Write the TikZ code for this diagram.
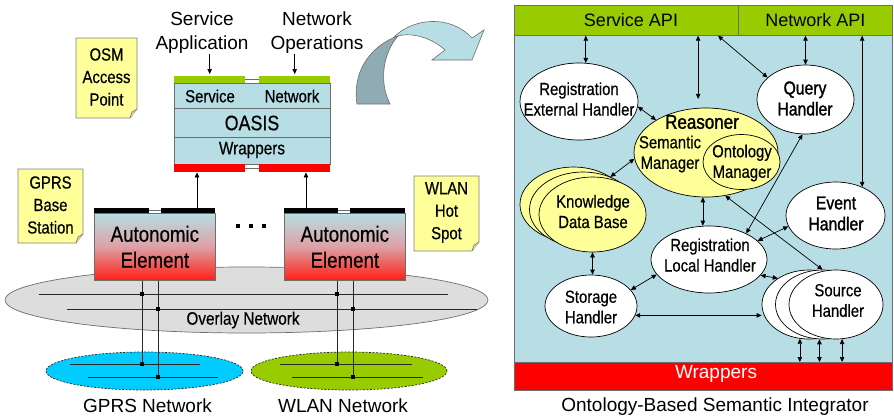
\documentclass[tikz,border=0pt]{standalone}
\usepackage{fontspec}
\setmainfont{Liberation Sans}
\newfontfamily\narrowsans[FakeStretch=0.85,FakeBold=0.5]{Liberation Sans}
\newfontfamily\narrowheavy[FakeStretch=0.85,FakeBold=1.4]{Liberation Sans}
\usetikzlibrary{shapes.geometric,arrows.meta,calc}

\definecolor{panelblue}{RGB}{183,222,228}
\definecolor{apigreen}{RGB}{153,204,0}
\definecolor{paleyellow}{RGB}{255,255,153}
\definecolor{notebrd}{RGB}{128,128,128}
\definecolor{boxbrd}{RGB}{110,110,110}
\definecolor{overlaygray}{RGB}{221,221,221}
\definecolor{gprscyan}{RGB}{0,204,255}
\definecolor{wlangreen}{RGB}{153,204,0}
\definecolor{arrowdark}{RGB}{143,172,180}
\definecolor{arrowlight}{RGB}{183,222,228}
\definecolor{aered}{RGB}{255,30,20}
\definecolor{aemid}{RGB}{222,160,165}
\definecolor{netline}{RGB}{40,40,40}

% sticky note: x1 y1 x2 y2 name text
\newcommand\stickynote[6]{%
  \filldraw[fill=paleyellow,draw=notebrd,line width=0.7pt]
    (#1,#2) -- (#3,#2) -- (#3,#4-9) -- (#3-7,#4) -- (#1,#4) -- cycle;
  \draw[notebrd,line width=0.7pt,fill=paleyellow!75!notebrd]
    (#3,#4-9) -- (#3-5,#4-6) -- (#3-7,#4);
  \node[notetext] (#5) at ({(#1+#3)/2},{(#2+#4)/2-1}) {#6};
}

\tikzset{
  notetext/.style={font=\narrowsans\fontsize{17.5}{22.5}\selectfont, align=center, inner sep=0pt},
  headtext/.style={font=\fontsize{19}{24}\selectfont, align=center, inner sep=0pt},
  captext/.style={font=\fontsize{19}{23}\selectfont, inner sep=0pt},
  ovtext/.style={font=\narrowsans\fontsize{17.5}{20.5}\selectfont, align=center, inner sep=0pt},
  bigovtext/.style={font=\narrowheavy\fontsize{18.5}{21}\selectfont, align=center, inner sep=0pt},
  oval/.style={ellipse, draw=black, line width=0.7pt, fill=white, inner sep=0pt},
  yoval/.style={oval, fill=paleyellow},
  bar/.style={rectangle, anchor=north west, inner sep=0pt, draw=none},
  plainbox/.style={rectangle, anchor=north west, inner sep=0pt, draw=boxbrd, line width=0.7pt},
  aebox/.style={plainbox, top color=panelblue, bottom color=aered, middle color=aemid,
    font=\narrowsans\fontsize{22}{26}\selectfont, align=center},
  link/.style={line width=0.7pt},
  net/.style={netline, line width=0.8pt},
}

\begin{document}
\begin{tikzpicture}[x=1pt,y=-1pt,>={Triangle[length=5pt,width=4.5pt]}]
\useasboundingbox (0,0) rectangle (894,416);
\fill[white] (0,0) rectangle (894,416);

% ---------------- left: network side ----------------
% overlay network
\node[ellipse, draw=boxbrd, line width=0.7pt, fill=overlaygray, inner sep=0pt,
      minimum width=483pt, minimum height=66pt] (overlay) at (246.5,300) {};
\node[font=\narrowsans\fontsize{18}{20}\selectfont, inner sep=0pt] (ovlabel) at (243,320) {Overlay Network};
\draw[net] (39,294) -- (448,294);
\draw[net] (67,309) -- (477,309);

% access networks
\node[ellipse, draw=netline, dash pattern=on 2pt off 1.5pt, line width=0.7pt, fill=gprscyan,
      inner sep=0pt, minimum width=197pt, minimum height=38pt] (gprs) at (144.5,371) {};
\node[ellipse, draw=netline, dash pattern=on 2pt off 1.5pt, line width=0.7pt, fill=wlangreen,
      inner sep=0pt, minimum width=196pt, minimum height=38pt] (wlan) at (349,371) {};
\draw[net] (70,364) -- (200,364);
\draw[net] (88,377) -- (218,377);
\draw[net] (280,364) -- (412,364);
\draw[net] (292,377) -- (423,377);
\node[captext] (gprslabel) at (147.5,406) {GPRS Network};
\node[captext] (wlanlabel) at (343,406) {WLAN Network};

% autonomic elements
\node[aebox, minimum width=121pt, minimum height=67pt] (ae1) at (94,213) {Autonomic\\Element};
\node[aebox, minimum width=121pt, minimum height=67pt] (ae2) at (284,213) {Autonomic\\Element};
\node[bar, fill=black, minimum width=55pt, minimum height=5pt] (ae1l) at (94,208) {};
\node[bar, fill=black, minimum width=54pt, minimum height=5pt] (ae1r) at (161,208) {};
\node[bar, fill=black, minimum width=54pt, minimum height=5pt] (ae2l) at (284,208) {};
\node[bar, fill=black, minimum width=55pt, minimum height=5pt] (ae2r) at (350,208) {};
\draw[boxbrd, line width=0.6pt] (ae1l.east) -- (ae1r.west);
\draw[boxbrd, line width=0.6pt] (ae2l.east) -- (ae2r.west);

% attachment lines down to the networks
\draw[net] (ae1.south -| 142,0) -- (142,364);
\draw[net] (ae1.south -| 158,0) -- (158,377);
\draw[net] (ae2.south -| 337,0) -- (337,364);
\draw[net] (ae2.south -| 353,0) -- (353,377);
\foreach \px/\py in {142/294,158/309,142/364,158/377,337/294,353/309,337/364,353/377}
  \fill[black] (\px-1.7,\py-1.7) rectangle (\px+1.7,\py+1.7);

% ellipsis between elements
\foreach \px in {238,251,264}
  \fill[black] (\px-1.7,226-1.7) rectangle (\px+1.7,226+1.7);

% OASIS stack
\node[plainbox, fill=panelblue, minimum width=156pt, minimum height=81pt] (oasis) at (174,83) {};
\draw[boxbrd, line width=0.7pt] (oasis.west |- 0,108) -- (oasis.east |- 0,108);
\draw[boxbrd, line width=0.7pt] (oasis.west |- 0,137) -- (oasis.east |- 0,137);
\node[bar, fill=apigreen, minimum width=71pt, minimum height=7pt] (ogl) at (174,76) {};
\node[bar, fill=apigreen, minimum width=71pt, minimum height=7pt] (ogr) at (259,76) {};
\node[bar, fill=red, minimum width=71pt, minimum height=8pt] (orl) at (174,164) {};
\node[bar, fill=red, minimum width=71pt, minimum height=8pt] (orr) at (259,164) {};
\draw[boxbrd, line width=0.6pt] (ogl.east) -- (ogr.west);
\draw[boxbrd, line width=0.6pt] (orl.east) -- (orr.west);
\node[font=\narrowsans\fontsize{17.5}{20}\selectfont, inner sep=0pt] (osvc) at (210,96) {Service};
\node[font=\narrowsans\fontsize{17.5}{20}\selectfont, inner sep=0pt] (onet) at (292,96) {Network};
\node[font=\narrowsans\fontsize{21}{24}\selectfont, inner sep=0pt] (oname) at (252,123) {OASIS};
\node[font=\narrowsans\fontsize{18}{20}\selectfont, inner sep=0pt] (owrap) at (252,150) {Wrappers};

% inputs from above
\node[headtext] (svcapp) at (202,33) {Service\\Application};
\node[headtext] (netops) at (317,33) {Network\\Operations};
\draw[link,->, shorten >=2pt] (svcapp.south -| ogl.center) -- (ogl.north);
\draw[link,->, shorten >=2pt] (netops.south -| ogr.center) -- (ogr.north);

% elements report up to OASIS
\coordinate (ae1out) at (197,208);
\coordinate (ae2out) at (306,208);
\draw[link,->] (ae1out) -- (ae1out |- orl.south);
\draw[link,->] (ae2out) -- (ae2out |- orr.south);

% notes
\stickynote{76}{38}{137}{118}{osm}{OSM\\Access\\Point}
\stickynote{18}{169}{83}{243}{gprsbs}{GPRS\\Base\\Station}
\stickynote{414}{176}{479}{251}{wlanhs}{WLAN\\Hot\\Spot}

% zoom arrow towards the integrator
\filldraw[fill=arrowlight, draw=boxbrd, line width=0.6pt]
  (393,38) .. controls (412,18) and (450,14) .. (472,38)
  -- (484,30) -- (472,60) -- (432,60) -- (445,50)
  .. controls (432,38) and (412,32) .. (398,36) -- cycle;
\filldraw[fill=arrowdark, draw=boxbrd, line width=0.6pt]
  (357,104) .. controls (352,72) and (370,48) .. (393,38)
  -- (398,36) .. controls (384,52) and (378,80) .. (390,104) -- cycle;

% ---------------- right: semantic integrator ----------------
\node[plainbox, fill=panelblue, minimum width=378pt, minimum height=385pt] (panel) at (514,5) {};
\node[plainbox, fill=apigreen, minimum width=224pt, minimum height=30pt] (svcapi) at (514,5) {};
\node[plainbox, fill=apigreen, minimum width=154pt, minimum height=30pt,
      font=\fontsize{18}{20}\selectfont] (netapi) at (738,5) {Network API};
\node[font=\fontsize{18}{20}\selectfont, inner sep=0pt] (svcapitext) at (631,20) {Service API};
\node[plainbox, fill=red, minimum width=378pt, minimum height=28pt] (wrapbar) at (514,362) {};
\node[font=\fontsize{19}{21}\selectfont, text=white, inner sep=0pt] (wraptext) at (716,374) {Wrappers};
\node[captext] (integrator) at (715,407) {Ontology-Based Semantic Integrator};

% handlers and reasoner
\node[oval, minimum width=118pt, minimum height=77pt] (regext) at (579,101.5) {};
\node[ovtext] at (579,99) {Registration\\External Handler};

\node[yoval, minimum width=144pt, minimum height=89pt] (reasoner) at (706,152.5) {};
\node[font=\narrowheavy\fontsize{20}{22}\selectfont, inner sep=0pt] at (702,122) {Reasoner};
\node[ovtext] at (670,154) {Semantic\\Manager};
\node[yoval, minimum width=77pt, minimum height=55pt] (ontmgr) at (741.5,162) {};
\node[ovtext] at (742,163) {Ontology\\Manager};

\node[oval, minimum width=97pt, minimum height=69pt] (query) at (805.5,99.5) {};
\node[bigovtext] at (805,98.5) {Query\\Handler};

\node[oval, minimum width=99pt, minimum height=67pt] (event) at (835.5,215.5) {};
\node[bigovtext] at (836,213.5) {Event\\Handler};

\node[yoval, minimum width=107pt, minimum height=75pt] (kdb3) at (573.5,204.5) {};
\node[yoval, minimum width=107pt, minimum height=75pt] (kdb2) at (583,209.5) {};
\node[yoval, minimum width=107pt, minimum height=75pt] (kdb1) at (592.5,214.5) {};
\node[ovtext] at (593,211.5) {Knowledge\\Data Base};

\node[oval, minimum width=116pt, minimum height=67pt] (reglocal) at (709,259.5) {};
\node[ovtext] at (710,255) {Registration\\Local Handler};

\node[oval, minimum width=92pt, minimum height=62pt] (storage) at (591,306) {};
\node[ovtext] at (591,307) {Storage\\Handler};

\node[oval, minimum width=94pt, minimum height=69pt] (src1) at (809,304.5) {};
\node[oval, minimum width=94pt, minimum height=69pt] (src2) at (822.5,304.5) {};
\node[oval, minimum width=94pt, minimum height=69pt] (src3) at (836,304.5) {};
\node[ovtext] at (838,300.5) {Source\\Handler};

% interactions
\draw[link,<->] (regext.80) -- (regext.80 |- svcapi.south);
\draw[link,<->, shorten >=9pt] (reasoner.100 |- svcapi.south) -- (reasoner.100);
\draw[link,<->] (svcapi.south -| 718,0) -- (query.150);
\draw[link,<->] (query.north |- netapi.south) -- (query.north);
\draw[link,<->] (event.47 |- netapi.south) -- (event.47);
\draw[link,<->] (regext.-5) -- (reasoner.147);
\draw[link,<->] (reasoner.185) -- (kdb2.50);
\draw[link,<->] (reasoner.266) -- (reasoner.266 |- reglocal.north);
\draw[link,<->] (query.265) -- (reglocal.35);
\draw[link,<->] (reglocal.21) -- (event.193);
\draw[link,<->] (reasoner.294) -- (src2.north);
\draw[link,<->] (kdb1.south) -- (kdb1.south |- storage.north);
\draw[link,<->] (storage.22) -- (reglocal.196);
\draw[link,<->] (storage.-12) -- (storage.-12 -| src1.west);
\draw[link,<->] (reglocal.-17) -- (src1.140);
\draw[link,<->] (src1.-105) -- (src1.-105 |- wrapbar.north);
\draw[link,<->] (src2.-95) -- (src2.-95 |- wrapbar.north);
\draw[link,<->] (src3.-80) -- (src3.-80 |- wrapbar.north);
\end{tikzpicture}
\end{document}
